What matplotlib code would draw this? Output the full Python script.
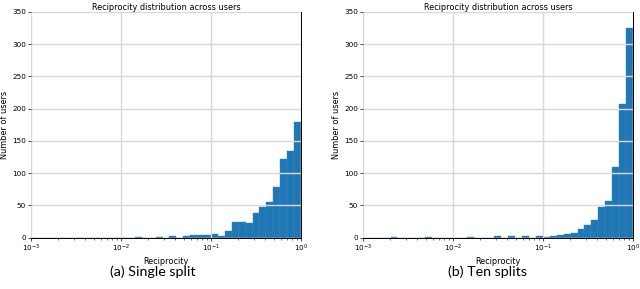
import numpy as np
import matplotlib
matplotlib.use("Agg")
import matplotlib.pyplot as plt

# log-spaced bins, 13 per decade from 1e-3 to 1
bin_edges = np.logspace(-3, 0, 40)

# counts per bin
counts_single = [0, 0, 0, 0, 0, 0, 0, 0, 0, 0, 0, 0, 0,
                 0, 0, 1, 0, 0, 1, 0, 2, 0, 3, 4, 4, 4,
                 6, 2, 11, 24, 25, 23, 38, 47, 56, 78, 122, 135, 180]
counts_ten = [0, 0, 0, 0, 1, 0, 0, 0, 0, 1, 0, 0, 0,
              0, 0, 1, 0, 0, 0, 2, 0, 2, 0, 3, 0, 2,
              1, 2, 4, 6, 7, 14, 19, 28, 48, 57, 110, 208, 325]

title = 'Reciprocity distribution across users'
captions = ['(a) Single split', '(b) Ten splits']
yticks = [0, 50, 100, 150, 200, 250, 300, 350]

fig = plt.figure(figsize=(6.4, 2.89), dpi=100)
ax1 = fig.add_axes([0.0484, 0.1775, 0.4219, 0.781])
ax2 = fig.add_axes([0.567, 0.1775, 0.4219, 0.781])

for ax, counts, cap, cx in zip([ax1, ax2], [counts_single, counts_ten], captions, [153, 487]):
    ax.bar(bin_edges[:-1], counts, width=np.diff(bin_edges), align='edge',
           color='#1f77b4', edgecolor='#3a8ac4', linewidth=0.3)
    ax.set_xscale('log')
    ax.set_xlim(1e-3, 1)
    ax.set_ylim(0, 350)
    ax.set_yticks(yticks)
    ax.grid(True, color='#d8d8d8', linewidth=1.0)
    ax.set_axisbelow(False)
    ax.tick_params(axis='both', which='major', labelsize=5.2, length=2, width=0.5, pad=1.5)
    ax.tick_params(axis='x', which='minor', length=1.2, width=0.4)
    for s in ax.spines.values():
        s.set_linewidth(0.7)
    ax.set_title(title, fontsize=5.9, pad=1.5)
    ax.set_xlabel('Reciprocity', fontsize=5.9, labelpad=2)
    ax.set_ylabel('Number of users', fontsize=5.9, labelpad=2)
    fig.text(cx / 640, 1 - 272 / 289, cap, fontsize=10.3, family='Lato',
             ha='center', va='center')

fig.savefig('out.png', dpi=100)
